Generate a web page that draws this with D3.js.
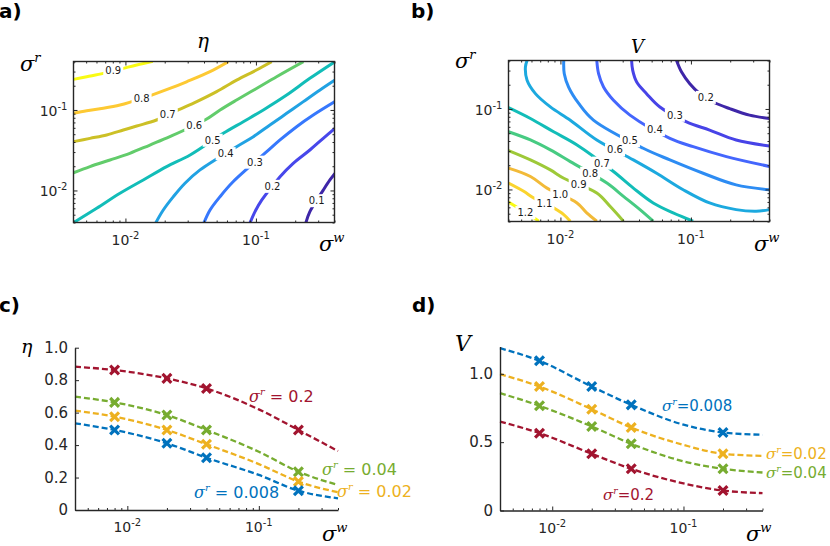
<!DOCTYPE html>
<html>
<head>
<meta charset="utf-8">
<script src="https://cdn.jsdelivr.net/npm/d3@7"></script>
<style>
body { margin: 0; background: #fff; }
text { font-family: "DejaVu Sans", sans-serif; }
</style>
</head>
<body>
<script>
// ---------- data ----------
// panel a: contour lines of eta, points are [sigma_w, sigma_r]
var etaLevels = [0.1, 0.2, 0.3, 0.4, 0.5, 0.6, 0.7, 0.8, 0.9];
var etaContours = [
  [[0.2415,0.00398],[0.259,0.00546],[0.328,0.0101],[0.369,0.0135],[0.403,0.0163]],
  [[0.0902,0.00398],[0.0984,0.00546],[0.111,0.00762],[0.153,0.0148],[0.193,0.0217],[0.259,0.0318],[0.328,0.0444],[0.403,0.0591]],
  [[0.040,0.00398],[0.0445,0.00572],[0.0531,0.00838],[0.0671,0.0129],[0.121,0.0303],[0.153,0.0424],[0.205,0.062],[0.275,0.0865],[0.403,0.127]],
  [[0.0171,0.00398],[0.0195,0.00572],[0.0233,0.00838],[0.0286,0.0123],[0.0373,0.018],[0.0711,0.035],[0.0955,0.0466],[0.128,0.065],[0.172,0.0908],[0.231,0.127],[0.310,0.177],[0.403,0.235]],
  [[0.004,0.00398],[0.00602,0.006],[0.00908,0.00921],[0.0137,0.0135],[0.0207,0.0198],[0.0313,0.0276],[0.0562,0.0513],[0.080,0.0715],[0.114,0.100],[0.172,0.153],[0.259,0.247],[0.403,0.398]],
  [[0.004,0.0166],[0.00535,0.0198],[0.00762,0.0239],[0.0108,0.0289],[0.0154,0.0367],[0.0219,0.0466],[0.0407,0.075],[0.0531,0.100],[0.0711,0.133],[0.101,0.185],[0.144,0.259],[0.231,0.398]],
  [[0.004,0.0404],[0.00535,0.0444],[0.00718,0.0489],[0.00964,0.0564],[0.0122,0.0632],[0.0173,0.075],[0.0254,0.100],[0.0352,0.127],[0.050,0.169],[0.0711,0.235],[0.101,0.314],[0.132,0.398]],
  [[0.004,0.0908],[0.00505,0.098],[0.00677,0.105],[0.00908,0.115],[0.0112,0.127],[0.0159,0.153],[0.0219,0.185],[0.0294,0.224],[0.0445,0.299],[0.0614,0.398]],
  [[0.004,0.240],[0.00505,0.259],[0.00677,0.285],[0.00964,0.329],[0.0122,0.362],[0.0162,0.402]]
];
var etaLabelAt = [0.292, 0.134, 0.0984, 0.0586, 0.0466, 0.0337, 0.0211, 0.0133, 0.00807];

// panel b: contour lines of V
var vLevels = [0.2, 0.3, 0.4, 0.5, 0.6, 0.7, 0.8, 0.9, 1.0, 1.1, 1.2];
var vContours = [
  [[0.0776,0.400],[0.0848,0.287],[0.098,0.206],[0.117,0.155],[0.148,0.122],[0.198,0.101],[0.281,0.0838],[0.400,0.0762]],
  [[0.0351,0.400],[0.0358,0.301],[0.0384,0.216],[0.0457,0.155],[0.0578,0.106],[0.0925,0.0693],[0.139,0.0547],[0.222,0.0412],[0.400,0.0347]],
  [[0.0190,0.400],[0.0196,0.274],[0.0214,0.187],[0.0255,0.128],[0.0341,0.0838],[0.069,0.0432],[0.104,0.034],[0.187,0.0256],[0.400,0.0193]],
  [[0.0106,0.400],[0.0107,0.274],[0.01155,0.187],[0.0138,0.117],[0.0179,0.0726],[0.0431,0.0325],[0.069,0.0233],[0.124,0.0159],[0.222,0.0114],[0.400,0.00993]],
  [[0.00555,0.400],[0.00539,0.331],[0.00555,0.227],[0.00643,0.155],[0.00837,0.106],[0.0119,0.0726],[0.019,0.0412],[0.0362,0.0233],[0.0546,0.0159],[0.0872,0.00993],[0.139,0.0068],[0.222,0.00562],[0.316,0.00537],[0.400,0.00562]],
  [[0.004,0.104],[0.00589,0.0762],[0.00887,0.0521],[0.0134,0.0357],[0.0255,0.0167],[0.0362,0.0104],[0.0514,0.0068],[0.0731,0.00512],[0.1039,0.00404]],
  [[0.004,0.0521],[0.00589,0.0412],[0.00837,0.031],[0.0119,0.0222],[0.0227,0.012],[0.0304,0.00822],[0.0407,0.00562],[0.0514,0.00404]],
  [[0.004,0.0304],[0.00589,0.0233],[0.00837,0.0175],[0.0106,0.0138],[0.019,0.00904],[0.024,0.00618],[0.0304,0.00404]],
  [[0.004,0.0184],[0.00589,0.0145],[0.00789,0.0104],[0.0134,0.0068],[0.0159,0.00512],[0.019,0.00404]],
  [[0.004,0.012],[0.00523,0.00948],[0.00624,0.00784],[0.00887,0.0059],[0.0106,0.00488],[0.0119,0.00404]],
  [[0.004,0.007],[0.00452,0.00618],[0.00624,0.00444],[0.00682,0.00404]]
];
var vLabelAt = [0.130, 0.0753, 0.053, 0.0341, 0.0262, 0.0208, 0.0169, 0.0138, 0.00997, 0.00754, 0.00539];

// panels c and d: curves against sigma_w
var sigmaW = [0.004, 0.008, 0.02, 0.04, 0.1, 0.2, 0.4];
var sigmaWMarks = [0.008, 0.02, 0.04, 0.2];
var seriesNames = ["0.2", "0.04", "0.02", "0.008"];
var etaSeries = [
  [0.883, 0.862, 0.811, 0.749, 0.620, 0.493, 0.363],
  [0.698, 0.663, 0.585, 0.493, 0.359, 0.236, 0.154],
  [0.612, 0.575, 0.493, 0.405, 0.283, 0.175, 0.109],
  [0.534, 0.493, 0.411, 0.322, 0.216, 0.119, 0.072]
];
var vSeries = [
  [0.651, 0.566, 0.415, 0.305, 0.198, 0.146, 0.127],
  [0.859, 0.766, 0.615, 0.488, 0.360, 0.305, 0.278],
  [0.998, 0.907, 0.741, 0.607, 0.480, 0.415, 0.400],
  [1.188, 1.095, 0.907, 0.773, 0.628, 0.571, 0.554]
];
var etaTicks = [0, 0.2, 0.4, 0.6, 0.8, 1.0];
var vTicks = [0, 0.5, 1.0];
var logMajors = [0.01, 0.1];

// ---------- styles ----------
var etaColors = ["#3e26a8","#4747eb","#3678fd","#21a2e3","#12bdb8","#62cc6b","#ccc026","#fdc933","#f9fb14"];
var vColors = ["#3e26a8","#4743e7","#4466fd","#2d8cf3","#1ca9df","#12bdb8","#47cb82","#9ec938","#f2ba38","#fad42e","#f9fb14"];
var seriesColors = ["#A2142F", "#77AC30", "#EDB120", "#0072BD"];
var ink = "#262626";

var svg = d3.select("body").append("svg")
    .attr("width", 830)
    .attr("height", 546);
var defs = svg.append("defs");

function isMajor(v) {
    var l = Math.log10(v);
    return Math.abs(l - Math.round(l)) < 1e-6;
}

// "10" with superscript exponent
function powText(t, v) {
    t.append("tspan").text("10");
    t.append("tspan").attr("dy", -6).attr("font-size", 10).text(Math.round(Math.log10(v)));
}

// italic symbol with optional superscript and trailing text
function mathText(g, x, y, sym, sup, rest, size, color) {
    var t = g.append("text").attr("x", x).attr("y", y)
        .attr("font-size", size).attr("fill", color);
    t.append("tspan").attr("font-family", "DejaVu Serif").attr("font-style", "italic").text(sym);
    if (sup) {
        t.append("tspan").attr("font-family", "DejaVu Serif").attr("font-style", "italic")
            .attr("font-size", size * 0.62).attr("dy", -size * 0.42).text(sup);
    }
    if (rest) {
        t.append("tspan").attr("dy", sup ? size * 0.42 : 0).text(rest);
    }
    return t;
}

function panelLetter(x, y, s) {
    svg.append("text").attr("x", x).attr("y", y)
        .attr("font-size", 20).attr("font-weight", "bold").attr("fill", "#000").text(s);
}

//Contour panels_____________________________________________________________________________
function contourPanel(id, box, levels, contours, labelAt, colors) {
    var x = d3.scaleLog().domain([0.004, 0.4]).range([box.left, box.right]);
    var y = d3.scaleLog().domain([0.004, 0.4]).range([box.bottom, box.top]);

    defs.append("clipPath").attr("id", id + "-clip")
        .append("rect")
        .attr("x", box.left).attr("y", box.top)
        .attr("width", box.right - box.left).attr("height", box.bottom - box.top);

    var g = svg.append("g");
    var plot = g.append("g").attr("clip-path", "url(#" + id + "-clip)");

    var line = d3.line()
        .x((d) => x(d[0]))
        .y((d) => y(d[1]))
        .curve(d3.curveCatmullRom.alpha(0.5));

    // label positions on each line
    var labels = contours.map((c, i) => {
        var pts = c.map((p) => [x(p[0]), y(p[1])]);
        var px = x(labelAt[i]);
        var py = pts[0][1];
        for (var k = 0; k < pts.length - 1; k++) {
            var a = pts[k], b = pts[k + 1];
            if ((px - a[0]) * (px - b[0]) <= 0 && a[0] !== b[0]) {
                py = a[1] + (b[1] - a[1]) * (px - a[0]) / (b[0] - a[0]);
                break;
            }
        }
        return {x: px, y: py, text: d3.format(".1f")(levels[i])};
    });

    // a mask per line that cuts the gap for its own label
    labels.forEach((lb, i) => {
        var m = defs.append("mask").attr("id", id + "-m" + i)
            .attr("maskUnits", "userSpaceOnUse")
            .attr("x", 0).attr("y", 0).attr("width", 830).attr("height", 546);
        m.append("rect").attr("x", 0).attr("y", 0).attr("width", 830).attr("height", 546).attr("fill", "#fff");
        m.append("rect").attr("x", lb.x - 10).attr("y", lb.y - 6.5)
            .attr("width", 20).attr("height", 13).attr("fill", "#000");
    });

    plot.selectAll("path.contour")
        .data(contours)
        .enter()
        .append("path")
            .attr("class", "contour")
            .attr("d", line)
            .attr("fill", "none")
            .attr("stroke", (d, i) => colors[i])
            .attr("stroke-width", 3)
            .attr("mask", (d, i) => "url(#" + id + "-m" + i + ")");

    g.selectAll("text.clabel")
        .data(labels)
        .enter()
        .append("text")
            .attr("class", "clabel")
            .attr("x", (d) => d.x)
            .attr("y", (d) => d.y + 3.5)
            .attr("text-anchor", "middle")
            .attr("font-size", 10)
            .attr("fill", "#1a1a1a")
            .text((d) => d.text);

    // ticks on all four sides, pointing in
    var minors = x.ticks().filter((v) => !isMajor(v));
    var axes = g.append("g").attr("color", ink);
    function tickSet(gen, transform, vals, size) {
        axes.append("g")
            .attr("transform", transform)
            .call(gen.tickValues(vals).tickSize(-size).tickSizeOuter(0).tickFormat(""))
            .call((s) => s.select(".domain").remove());
    }
    [[logMajors, 4], [minors, 2]].forEach((t) => {
        tickSet(d3.axisBottom(x), "translate(0," + box.bottom + ")", t[0], t[1]);
        tickSet(d3.axisTop(x), "translate(0," + box.top + ")", t[0], t[1]);
        tickSet(d3.axisLeft(y), "translate(" + box.left + ",0)", t[0], t[1]);
        tickSet(d3.axisRight(y), "translate(" + box.right + ",0)", t[0], t[1]);
    });

    g.append("rect")
        .attr("x", box.left).attr("y", box.top)
        .attr("width", box.right - box.left).attr("height", box.bottom - box.top)
        .attr("fill", "none").attr("stroke", ink).attr("stroke-width", 1.4);

    logMajors.forEach((v) => {
        var tx = g.append("text").attr("x", x(v)).attr("y", box.bottom + 22)
            .attr("text-anchor", "middle").attr("font-size", 14).attr("fill", ink);
        powText(tx, v);
        var ty = g.append("text").attr("x", box.left - 6).attr("y", y(v) + 6)
            .attr("text-anchor", "end").attr("font-size", 14).attr("fill", ink);
        powText(ty, v);
    });
    return g;
}

var gA = contourPanel("pa", {left: 73.5, right: 334.5, top: 61.5, bottom: 222.5},
    etaLevels, etaContours, etaLabelAt, etaColors);
mathText(gA, 197, 48, "\u03b7", null, null, 20, "#000");
mathText(gA, 20, 71, "\u03c3", "r", null, 21, "#000");
mathText(gA, 319, 251, "\u03c3", "w", null, 21, "#000");

var gB = contourPanel("pb", {left: 508.5, right: 769.5, top: 60.5, bottom: 221.5},
    vLevels, vContours, vLabelAt, vColors);
mathText(gB, 631, 53, "V", null, null, 18, "#000");
mathText(gB, 455, 68, "\u03c3", "r", null, 21, "#000");
mathText(gB, 754, 251, "\u03c3", "w", null, 21, "#000");

//Curve panels_______________________________________________________________________________
function curvePanel(xRange, yDomain, yRange, ticks, series) {
    var x = d3.scaleLog().domain([0.004, 0.4]).range(xRange);
    var y = d3.scaleLinear().domain(yDomain).range(yRange);
    var g = svg.append("g");

    var line = d3.line()
        .x((d, i) => x(sigmaW[i]))
        .y((d) => y(d))
        .curve(d3.curveMonotoneX);

    g.selectAll("path.series")
        .data(series)
        .enter()
        .append("path")
            .attr("class", "series")
            .attr("d", line)
            .attr("fill", "none")
            .attr("stroke", (d, i) => seriesColors[i])
            .attr("stroke-width", 2.3)
            .attr("stroke-dasharray", "6,3");

    var cross = d3.symbol().type(d3.symbolTimes).size(52);
    series.forEach((s, i) => {
        var marks = sigmaW.map((w, k) => [w, s[k]]).filter((p) => sigmaWMarks.indexOf(p[0]) >= 0);
        g.selectAll("path.m" + i)
            .data(marks)
            .enter()
            .append("path")
                .attr("class", "m" + i)
                .attr("d", cross)
                .attr("transform", (d) => "translate(" + x(d[0]) + "," + y(d[1]) + ")")
                .attr("fill", "none")
                .attr("stroke", seriesColors[i])
                .attr("stroke-width", 3.2);
    });

    var minors = x.ticks().filter((v) => !isMajor(v));
    var axes = g.append("g").attr("color", ink);
    axes.append("g")
        .attr("transform", "translate(0," + yRange[0] + ")")
        .call(d3.axisBottom(x).tickValues(logMajors).tickSize(-4).tickSizeOuter(0).tickFormat(""))
        .call((s) => s.select(".domain").attr("stroke-width", 1.4));
    axes.append("g")
        .attr("transform", "translate(0," + yRange[0] + ")")
        .call(d3.axisBottom(x).tickValues(minors).tickSize(-2).tickSizeOuter(0).tickFormat(""))
        .call((s) => s.select(".domain").remove());
    axes.append("g")
        .attr("transform", "translate(" + xRange[0] + ",0)")
        .call(d3.axisLeft(y).tickValues(ticks).tickSize(-4).tickSizeOuter(0).tickPadding(7)
            .tickFormat((d) => d === 0 ? "0" : d3.format(".1f")(d)))
        .call((s) => s.select(".domain").attr("stroke-width", 1.4))
        .selectAll("text")
            .attr("font-size", 15)
            .attr("font-family", "DejaVu Sans")
            .attr("fill", ink);

    logMajors.forEach((v) => {
        var tx = g.append("text").attr("x", x(v)).attr("y", yRange[0] + 22)
            .attr("text-anchor", "middle").attr("font-size", 14).attr("fill", ink);
        powText(tx, v);
    });
    return g;
}

var gC = curvePanel([75, 338], [0, 1], [510, 347.7], etaTicks, etaSeries);
mathText(gC, 21, 353, "\u03b7", null, null, 19, "#000");
mathText(gC, 322, 541, "\u03c3", "w", null, 21, "#000");
mathText(gC, 249, 402, "\u03c3", "r", " = " + seriesNames[0], 16, seriesColors[0]);
mathText(gC, 322, 475, "\u03c3", "r", " = " + seriesNames[1], 16, seriesColors[1]);
mathText(gC, 337, 497, "\u03c3", "r", " = " + seriesNames[2], 16, seriesColors[2]);
mathText(gC, 194, 498, "\u03c3", "r", " = " + seriesNames[3], 16, seriesColors[3]);

var gD = curvePanel([500, 762.5], [0, 1.2], [510.5, 346.5], vTicks, vSeries);
mathText(gD, 455, 351, "V", null, null, 22, "#000");
mathText(gD, 746, 541, "\u03c3", "w", null, 21, "#000");
mathText(gD, 603, 500, "\u03c3", "r", "=" + seriesNames[0], 15, seriesColors[0]);
mathText(gD, 766, 478, "\u03c3", "r", "=" + seriesNames[1], 15, seriesColors[1]);
mathText(gD, 766, 459, "\u03c3", "r", "=" + seriesNames[2], 15, seriesColors[2]);
mathText(gD, 662, 411, "\u03c3", "r", "=" + seriesNames[3], 15, seriesColors[3]);

panelLetter(-1, 18, "a)");
panelLetter(411, 18, "b)");
panelLetter(-1, 312, "c)");
panelLetter(412, 312, "d)");
</script>
</body>
</html>
